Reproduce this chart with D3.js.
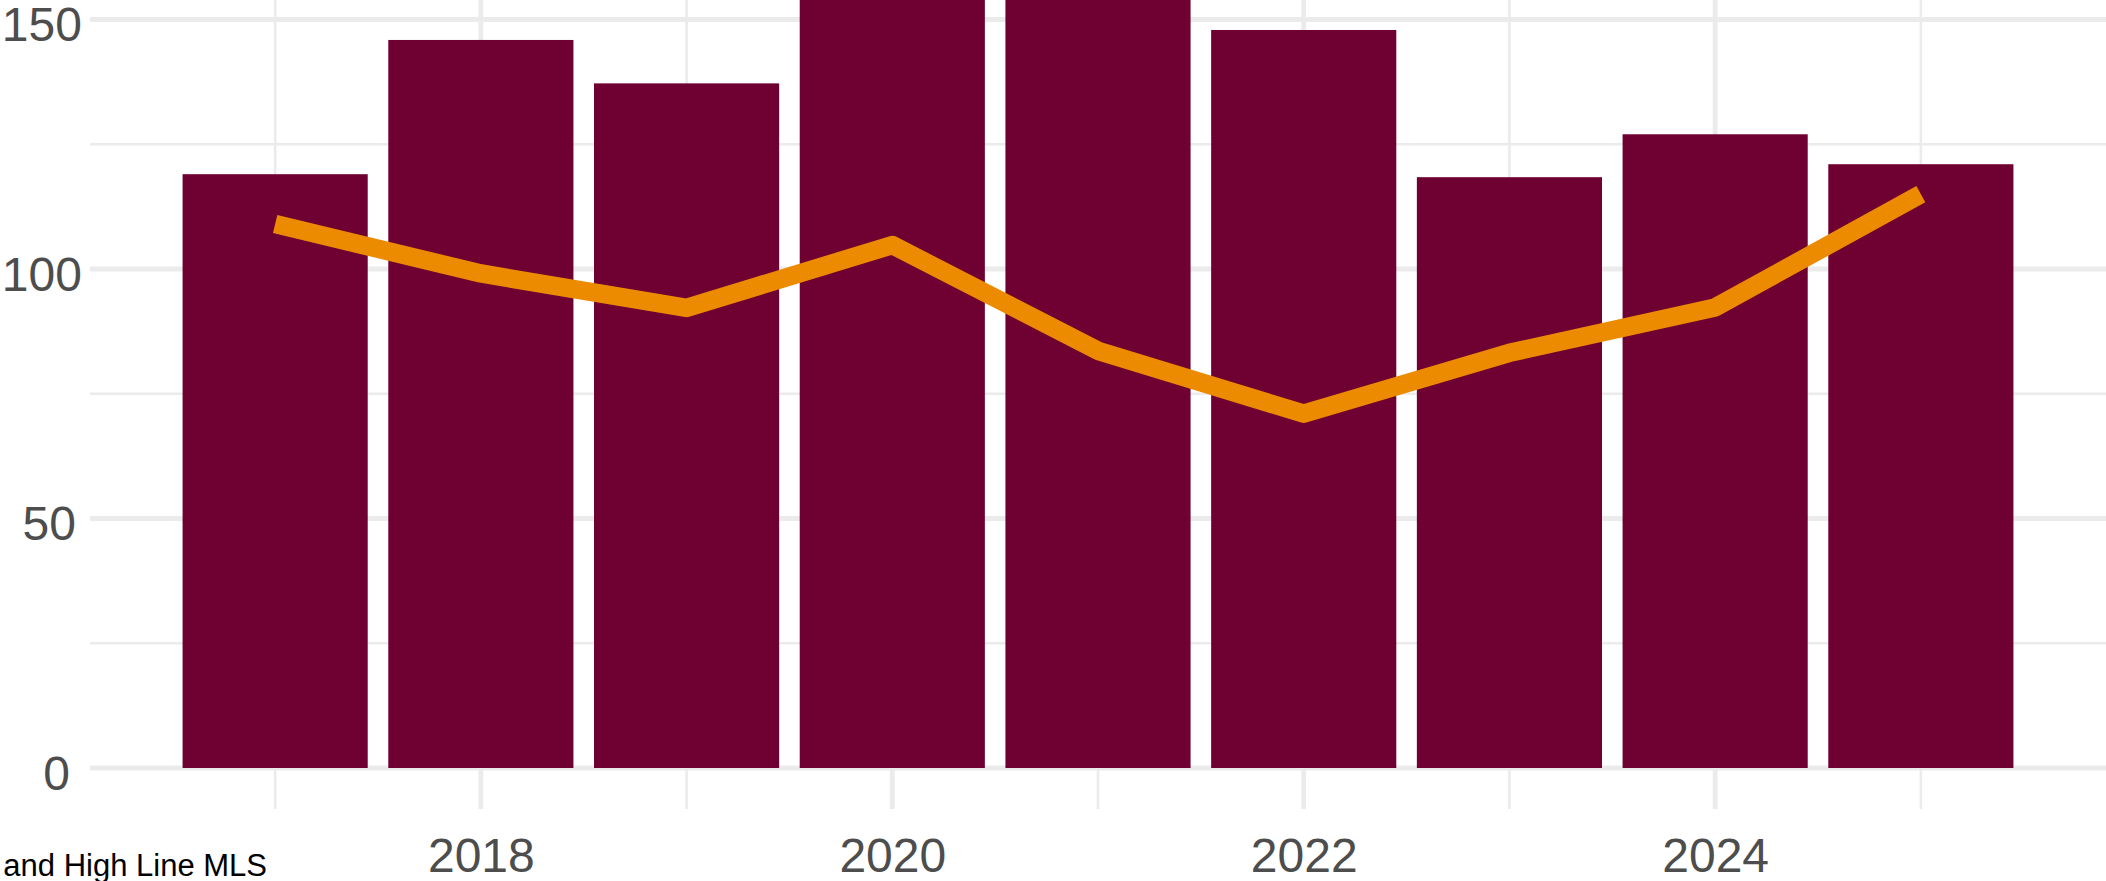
<!DOCTYPE html>
<html>
<head>
<meta charset="utf-8">
<script src="https://cdn.jsdelivr.net/npm/d3@7"></script>
<style>
  html, body { margin: 0; padding: 0; background: #ffffff; overflow: hidden; }
  svg { display: block; font-family: "Liberation Sans", Arial, sans-serif; }
</style>
</head>
<body>
<svg id="chart" width="2106" height="881"></svg>
<script>
// ---- data ----
const years = [2017, 2018, 2019, 2020, 2021, 2022, 2023, 2024, 2025];
const barValues = [119.0, 145.9, 137.2, 160, 158, 147.9, 118.4, 127.0, 121.0];
const lineValues = [109.0, 99.1, 92.2, 104.8, 83.6, 71.0, 83.2, 92.3, 115.0];
const yMajorTicks = [0, 50, 100, 150];
const yMinorTicks = [25, 75, 125, 175];
const xMajorTicks = [2018, 2020, 2022, 2024];
const xMinorTicks = [2017, 2019, 2021, 2023, 2025];
const captionText = "and High Line MLS";

// ---- layout ----
const panel = { left: 90, right: 2106, bottom: 809, top: -200 };
const svg = d3.select("#chart");

const x = d3.scaleLinear().domain([2016.1, 2025.9]).range([panel.left, panel.right]);
const y = d3.scaleLinear().domain([0, 150]).range([768, 19.5]);
const barW = x(2017.9) - x(2017);

const grid = svg.append("g");
grid.selectAll("line.ymin").data(yMinorTicks).join("line")
  .attr("x1", panel.left).attr("x2", panel.right)
  .attr("y1", d => y(d)).attr("y2", d => y(d))
  .attr("stroke", "#EBEBEB").attr("stroke-width", 2.6);
grid.selectAll("line.xmin").data(xMinorTicks).join("line")
  .attr("x1", d => x(d)).attr("x2", d => x(d))
  .attr("y1", panel.top).attr("y2", panel.bottom)
  .attr("stroke", "#EBEBEB").attr("stroke-width", 2.6);
grid.selectAll("line.ymaj").data(yMajorTicks).join("line")
  .attr("x1", panel.left).attr("x2", panel.right)
  .attr("y1", d => y(d)).attr("y2", d => y(d))
  .attr("stroke", "#EBEBEB").attr("stroke-width", 4.8);
grid.selectAll("line.xmaj").data(xMajorTicks).join("line")
  .attr("x1", d => x(d)).attr("x2", d => x(d))
  .attr("y1", panel.top).attr("y2", panel.bottom)
  .attr("stroke", "#EBEBEB").attr("stroke-width", 4.8);

// bars
svg.append("g").selectAll("rect").data(years).join("rect")
  .attr("x", (d) => x(d) - barW / 2)
  .attr("width", barW)
  .attr("y", (d, i) => y(barValues[i]))
  .attr("height", (d, i) => y(0) - y(barValues[i]))
  .attr("fill", "#6F0032");

// line
const lineGen = d3.line().x((d, i) => x(years[i])).y(d => y(d));
svg.append("path").datum(lineValues)
  .attr("d", lineGen)
  .attr("fill", "none")
  .attr("stroke", "#EC8B00")
  .attr("stroke-width", 18.5)
  .attr("stroke-linejoin", "round")
  .attr("stroke-linecap", "butt");

// x axis labels
const xAxis = d3.axisBottom(x).tickValues(xMajorTicks).tickFormat(d3.format("d")).tickSize(0).tickPadding(0);
const gx = svg.append("g").call(xAxis);
gx.select(".domain").remove();
gx.selectAll("text")
  .attr("y", 872).attr("dy", null)
  .attr("fill", "#4D4D4D")
  .style("font-size", "48px")
  .style("font-family", "'Liberation Sans', Arial, sans-serif");

// y axis labels (ggplot-like hjust)
const yAxis = d3.axisLeft(y).tickValues(yMajorTicks).tickFormat(d3.format("d")).tickSize(0).tickPadding(0);
const gy = svg.append("g").call(yAxis);
gy.select(".domain").remove();
gy.selectAll("text")
  .attr("dy", null)
  .attr("y", 21)
  .attr("fill", "#4D4D4D")
  .style("font-size", "48px")
  .style("font-family", "'Liberation Sans', Arial, sans-serif")
  .attr("text-anchor", "start")
  .each(function () {
    const len = this.getComputedTextLength();
    d3.select(this).attr("x", 64 - 0.776 * len);
  });

// caption (cut at left edge)
svg.append("text")
  .attr("x", 267).attr("y", 876)
  .attr("text-anchor", "end")
  .attr("fill", "#000000")
  .style("font-size", "31px")
  .text(captionText);
</script>
</body>
</html>
